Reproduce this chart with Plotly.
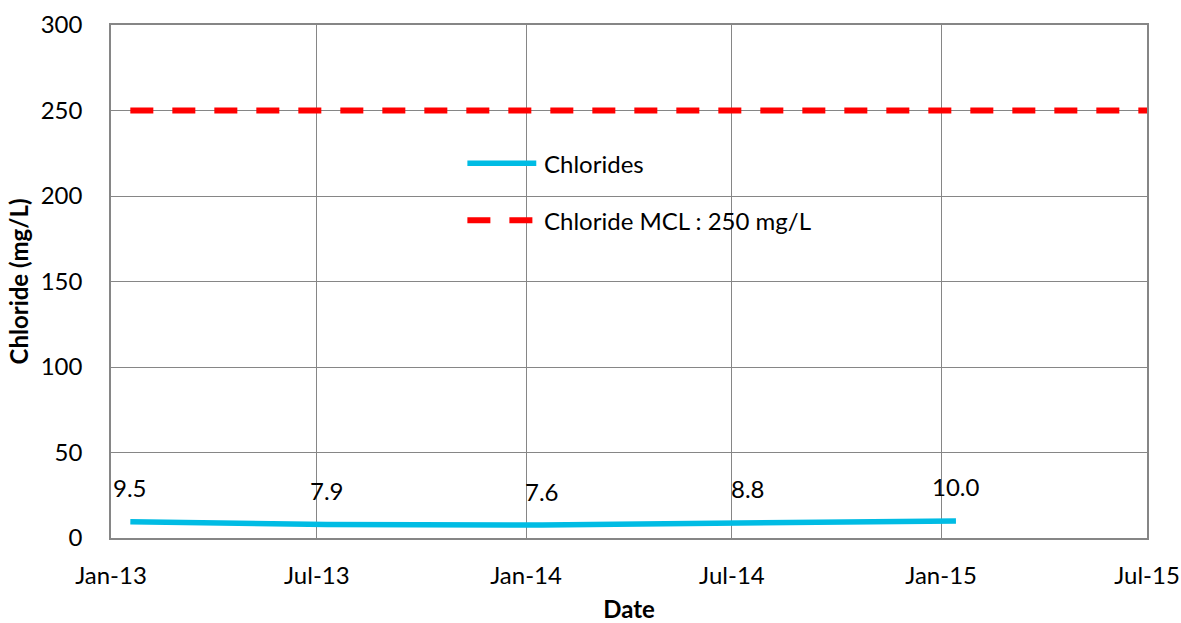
import plotly.graph_objects as go

# Sampling dates and measured chloride concentrations (mg/L)
sample_dates = ["2013-01-18", "2013-07-10", "2014-01-15", "2014-07-15", "2015-01-14"]
chloride_mg_l = [9.5, 7.9, 7.6, 8.8, 10.0]

# Maximum contaminant level reference line
mcl_dates = ["2013-01-18", "2015-07-01"]
mcl_mg_l = [250, 250]

# Axis ticks
x_tick_dates = ["2013-01-01", "2013-07-01", "2014-01-01", "2014-07-01", "2015-01-01", "2015-07-01"]
x_tick_text = ["Jan-13", "Jul-13", "Jan-14", "Jul-14", "Jan-15", "Jul-15"]
y_ticks = [0, 50, 100, 150, 200, 250, 300]

FONT = "Lato, Carlito, Calibri, sans-serif"
FS = 24
GRID = "#868686"
BLUE = "#00BCE4"
RED = "#FF0000"

fig = go.Figure()

fig.add_trace(go.Scatter(
    x=mcl_dates, y=mcl_mg_l, mode="lines", name="Chloride MCL : 250 mg/L",
    line=dict(color=RED, width=6, dash="23px,19px"), hoverinfo="skip",
))
fig.add_trace(go.Scatter(
    x=sample_dates, y=chloride_mg_l, mode="lines", name="Chlorides",
    line=dict(color=BLUE, width=5.5),
))

# Value labels above each sample
for d, v in zip(sample_dates, chloride_mg_l):
    fig.add_annotation(
        x=d, y=v, text=f"{v:.1f}", showarrow=False, yshift=34,
        font=dict(family=FONT, size=FS, color="#000000"),
    )

# Legend drawn inside the plot area
legend_rows = [
    ("Chlorides", BLUE, "solid", 0.7305),
    ("Chloride MCL : 250 mg/L", RED, "23px,19px", 0.6195),
]
for label, color, dash, yy in legend_rows:
    fig.add_shape(
        type="line", xref="paper", yref="paper",
        x0=0.344, x1=0.4105, y0=yy, y1=yy,
        line=dict(color=color, width=6 if color == RED else 5.5, dash=dash),
    )
    fig.add_annotation(
        xref="paper", yref="paper", x=0.416, y=yy, xanchor="left", yanchor="middle",
        text=label, showarrow=False, font=dict(family=FONT, size=FS, color="#000000"),
    )

fig.update_layout(
    width=1181, height=623,
    margin=dict(l=111, r=34, t=25, b=85),
    paper_bgcolor="white", plot_bgcolor="white",
    showlegend=False,
    font=dict(family=FONT, size=FS, color="#000000"),
)

fig.update_xaxes(
    type="date",
    range=["2013-01-01", "2015-07-01"],
    tickmode="array", tickvals=x_tick_dates, ticktext=x_tick_text,
    showgrid=True, gridcolor=GRID, gridwidth=1.3,
    showline=True, linecolor=GRID, linewidth=1.5, mirror=True,
    ticks="", ticklabelstandoff=15,
    tickfont=dict(family=FONT, size=FS),
    title=dict(text="<b>Date</b>", font=dict(family=FONT, size=FS), standoff=19),
    automargin=False, zeroline=False,
)
fig.update_yaxes(
    range=[0, 300], tickmode="array", tickvals=y_ticks,
    showgrid=True, gridcolor=GRID, gridwidth=1.3,
    showline=True, linecolor=GRID, linewidth=1.5, mirror=True,
    ticks="", ticklabelstandoff=22,
    tickfont=dict(family=FONT, size=FS),
    title=dict(text="<b>Chloride (mg/L)</b>", font=dict(family=FONT, size=FS), standoff=5),
    automargin=False, zeroline=False,
)

fig.write_html("out.html")
